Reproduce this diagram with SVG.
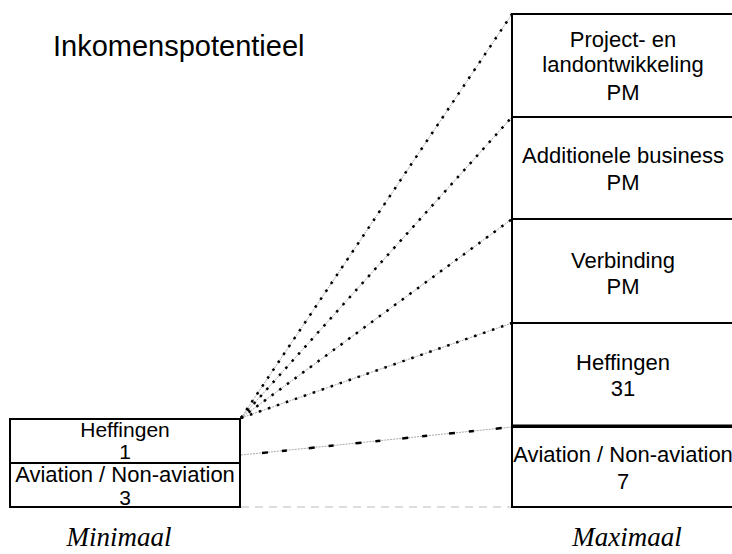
<svg xmlns="http://www.w3.org/2000/svg" width="732" height="554" viewBox="0 0 732 554">
<style>
.box{fill:#fff;stroke:#000;stroke-width:2}
.t{font-family:"Liberation Sans",Arial,sans-serif;font-size:22px;fill:#000;text-anchor:middle}
.ts{font-family:"Liberation Sans",Arial,sans-serif;font-size:21px;fill:#000;text-anchor:middle}
.lab{font-family:"Liberation Serif","Times New Roman",serif;font-style:italic;font-size:27px;fill:#000;text-anchor:middle}
.title{font-family:"Liberation Sans",Arial,sans-serif;font-size:29px;fill:#000}
.g{stroke:#aaa;stroke-width:1;stroke-dasharray:2,1;fill:none}
.d{stroke:#000;stroke-width:2.5;stroke-dasharray:2.5,7;fill:none}
.dd{stroke:#000;stroke-width:2.5;stroke-dasharray:6,14,5,22;fill:none}
.b{stroke:#bbb;stroke-width:1;stroke-dasharray:8,6;fill:none}
</style>
<rect width="732" height="554" fill="#fff"/>
<text class="title" x="53" y="56">Inkomenspotentieel</text>
<g id="connectors">
<line class="g" x1="241" y1="418" x2="512" y2="14"/>
<line class="d" x1="241" y1="418" x2="512" y2="14"/>
<line class="g" x1="241" y1="418" x2="512" y2="117"/>
<line class="d" x1="241" y1="418" x2="512" y2="117"/>
<line class="g" x1="241" y1="418" x2="512" y2="219"/>
<line class="d" x1="241" y1="418" x2="512" y2="219"/>
<line class="g" x1="241" y1="418" x2="512" y2="323"/>
<line class="d" x1="241" y1="418" x2="512" y2="323"/>
<line class="g" x1="241" y1="455" x2="512" y2="427"/>
<line class="dd" x1="262" y1="453" x2="512" y2="427"/>
<line class="b" x1="241" y1="507" x2="512" y2="507"/>
</g>
<g id="left-heffingen">
<rect class="box" x="10" y="419" width="230" height="44"/>
<text class="ts" x="125" y="437">Heffingen</text>
<text class="ts" x="125" y="459">1</text>
</g>
<g id="left-aviation">
<rect class="box" x="10" y="463" width="230" height="44"/>
<text class="t" x="125" y="482">Aviation / Non-aviation</text>
<text class="ts" x="125" y="505">3</text>
</g>
<g id="right-project">
<rect class="box" x="512" y="14" width="240" height="103"/>
<text class="t" x="623" y="47">Project- en</text>
<text class="t" x="623" y="72">landontwikkeling</text>
<text class="t" x="623" y="100">PM</text>
</g>
<g id="right-additionele">
<rect class="box" x="512" y="117" width="240" height="102"/>
<text class="t" x="623" y="163">Additionele business</text>
<text class="t" x="623" y="190">PM</text>
</g>
<g id="right-verbinding">
<rect class="box" x="512" y="219" width="240" height="104"/>
<text class="t" x="623" y="268">Verbinding</text>
<text class="t" x="623" y="294">PM</text>
</g>
<g id="right-heffingen">
<rect class="box" x="512" y="323" width="240" height="104"/>
<text class="t" x="623" y="370">Heffingen</text>
<text class="t" x="623" y="396">31</text>
</g>
<g id="right-aviation">
<rect class="box" x="512" y="427" width="240" height="80"/>
<line x1="512" y1="426" x2="732" y2="426" stroke="#000" stroke-width="3"/>
<text class="t" x="623" y="462">Aviation / Non-aviation</text>
<text class="t" x="623" y="489">7</text>
</g>
<text class="lab" x="119" y="546">Minimaal</text>
<text class="lab" x="627" y="546">Maximaal</text>
</svg>
